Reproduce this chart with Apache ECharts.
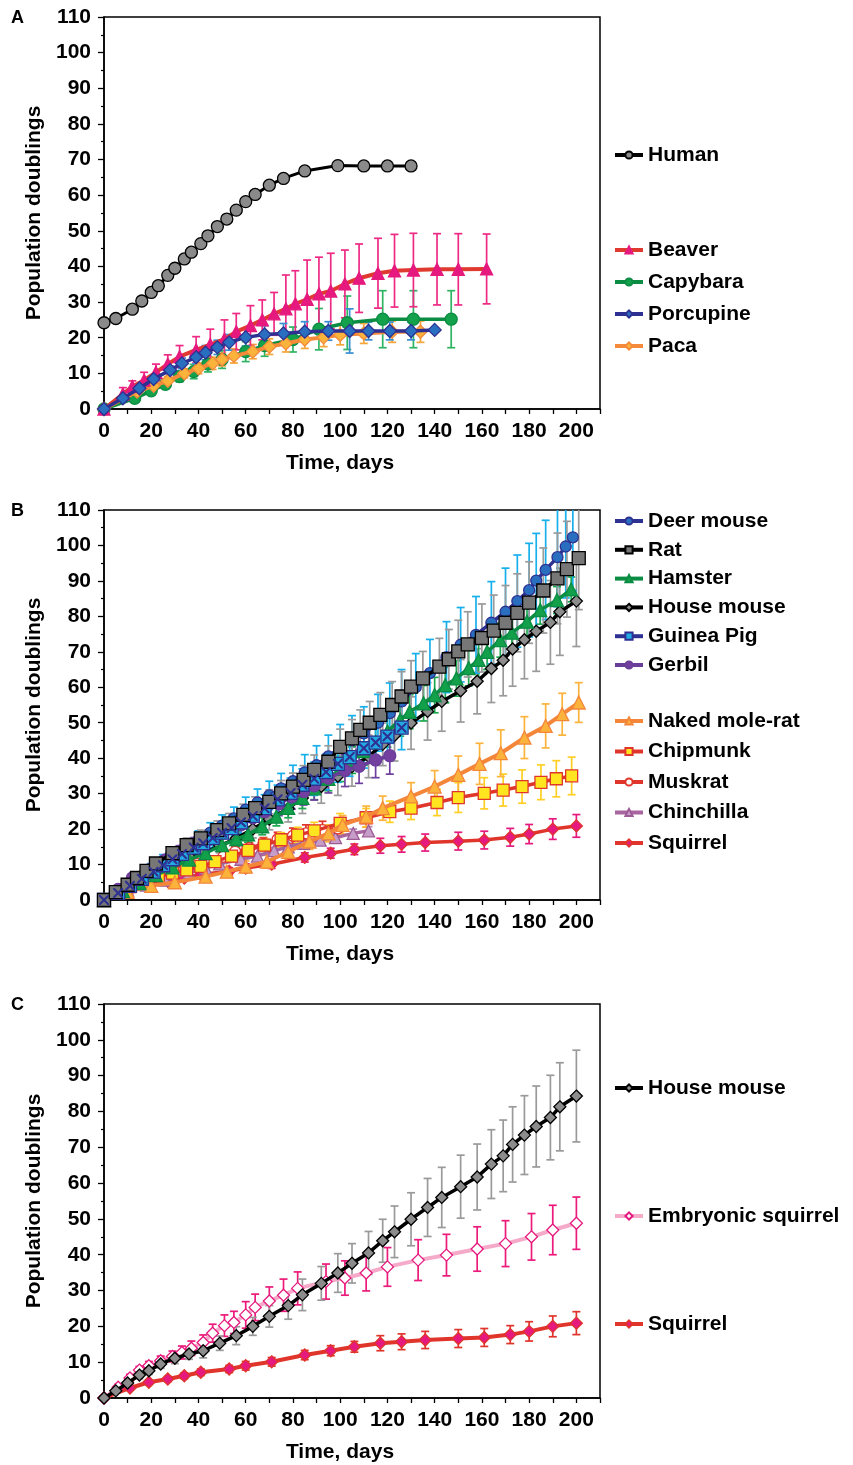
<!DOCTYPE html>
<html>
<head>
<meta charset="utf-8">
<script src="https://cdn.jsdelivr.net/npm/echarts@6/dist/echarts.min.js"></script>
<style>
  html, body { margin: 0; padding: 0; background: #fff; }
  #chart { width: 853px; height: 1465px; }
</style>
</head>
<body>
<div id="chart"></div>
<script>
// ---------- Panel A: population doublings of large rodents and human ----------
const humanDays = [0, 5, 12, 16, 20, 23, 27, 30, 34, 37, 41, 44, 48, 52, 56, 60, 64, 70, 76, 85, 99, 110, 120, 130];
const humanPD   = [24.2, 25.4, 28, 30.3, 32.7, 34.6, 37.5, 39.5, 42.1, 44, 46.4, 48.6, 51.2, 53.3, 55.8, 58.2, 60.2, 62.8, 64.7, 66.8, 68.3, 68.2, 68.2, 68.2];

const beaverDays = [0, 8, 12, 17, 22, 27, 32, 39, 45, 51, 56, 62, 67, 72, 77, 81, 86, 91, 96, 102, 108, 116, 123, 131, 141, 150, 162];
const beaverPD   = [0, 4.2, 6.3, 8.1, 10.3, 12.6, 14.7, 16.6, 18.1, 19.6, 21.7, 23.4, 25.0, 26.7, 28.1, 29.5, 30.8, 32.3, 33.1, 35.1, 36.7, 38.1, 38.8, 39.0, 39.2, 39.2, 39.3];
const beaverErr  = [0, 1.8, 1.6, 2.2, 2.3, 2.6, 3.1, 3.7, 4.3, 5.4, 5.1, 5.6, 5.6, 6, 9.5, 9.3, 11, 10.3, 10.6, 9.5, 9.6, 9.8, 10.2, 10.3, 10, 10, 9.8];

const capybaraDays = [0, 13, 20, 26, 32, 38, 44, 50, 60, 68, 80, 91, 103, 118, 131, 147];
const capybaraPD   = [0, 3.0, 5.1, 6.9, 9.1, 10.5, 12.6, 13.9, 16.1, 17.8, 19.5, 22.4, 24.2, 25.2, 25.2, 25.2];
const capybaraErr  = [0, 0.8, 1, 1.2, 1.5, 2, 2.2, 2.5, 2.8, 3, 3.5, 5.8, 7.5, 8, 8, 8];

const porcupineDays = [0, 8, 15, 21, 28, 33, 39, 43, 48, 53, 60, 68, 76, 85, 95, 104, 112, 121, 130, 140];
const porcupinePD   = [0, 3.0, 5.8, 8.4, 10.9, 12.8, 14.5, 15.8, 17.3, 18.7, 20.1, 20.9, 21.2, 21.7, 21.9, 21.9, 21.9, 21.9, 21.9, 22.2];
const porcupineErr  = [0, 0.6, 0.8, 1, 1.2, 1.5, 1.8, 2, 2, 2.2, 2.4, 2.5, 2.8, 2.8, 2.6, 6.2, 2.5, 2.5, 2.5, 0];

const pacaDays = [0, 14, 21, 27, 34, 40, 46, 50, 55, 63, 70, 77, 85, 93, 100, 110, 122, 134];
const pacaPD   = [0, 4.9, 6.5, 7.9, 10, 11.4, 12.8, 13.9, 14.9, 16.1, 17.5, 18.4, 19.5, 20.1, 20.8, 21.2, 21.7, 21.7];
const pacaErr  = [0, 0.8, 1, 1.2, 1.3, 1.5, 1.7, 1.8, 2, 2, 2.2, 2.4, 2.5, 2.6, 2.8, 2.8, 3, 3];

// ---------- Panel B: small rodents ----------
const deerMouseDays = [0, 5, 10, 15, 20, 25, 30, 35, 40, 45, 50, 55, 60, 65, 70, 75, 80, 85, 90, 95, 100, 105, 110, 116, 121, 126, 132, 138, 145, 151, 157.5, 164, 170, 175, 180, 183, 187, 192, 195.5, 198.5];
const deerMousePD   = [0, 2, 4.3, 6.5, 8.8, 11, 13, 15, 17, 19, 21, 23, 25.5, 27.5, 29.5, 31.5, 33.5, 36, 38, 40.5, 43, 45, 47, 50, 52.7, 56, 60, 64, 68.5, 72, 74.8, 78.2, 81.3, 84.3, 87.4, 90.1, 93.1, 96.7, 99.7, 102.3];
const deerMouseErr  = [0, 0.5, 1, 1.2, 1.5, 1.8, 2, 2.2, 2.5, 2.8, 3, 3.2, 3.5, 3.8, 4, 4.2, 4.5, 5, 5.5, 6, 6.5, 7, 7.5, 8, 8.5, 9, 9.5, 9.5, 10, 10.5, 10.8, 11.6, 12.3, 13, 13.2, 13.3, 14, 14, 14.5, 15];

const ratDays = [0, 5, 10, 14, 18, 22, 29, 35, 41, 48, 53, 59, 64, 70, 75, 80, 84.5, 89, 95, 100, 105, 108.5, 112.5, 117, 122, 126, 130, 135, 142, 146, 150, 154, 160, 165, 170, 175, 180, 186, 192, 196, 201];
const ratPD   = [0, 2.2, 4.3, 6.2, 8.2, 10.3, 13.2, 15.5, 17.4, 19.7, 21.6, 24, 25.9, 27.7, 30.1, 32, 33.9, 36.7, 39, 43.2, 45.6, 48, 50, 52.2, 55, 57.4, 60.2, 62.5, 65.8, 67.9, 70.1, 72.1, 73.9, 76, 78.2, 81, 83.9, 87.3, 90.7, 93.3, 96.4];
const ratErr  = [0, 0.5, 0.8, 1, 1.2, 1.4, 1.7, 2, 2.3, 2.6, 2.8, 3, 3.2, 3.4, 3.6, 3.8, 4, 4.2, 4.5, 5, 5.3, 5.6, 6, 6.3, 6.6, 7, 7.3, 7.6, 8, 8.4, 8.8, 9.2, 9.6, 10, 10.5, 11, 11.5, 12, 12.8, 13.5, 14.5];

const hamsterDays = [0, 8, 15, 22, 29, 36, 43, 50, 56, 61, 67, 73, 78, 84, 89, 95, 100, 105, 110, 115, 120, 125.4, 129.4, 135.3, 140, 144.5, 149.2, 154.4, 158.6, 162.2, 167.8, 172.7, 179.1, 184.7, 191.8, 197.8];
const hamsterPD   = [0, 2.5, 4.8, 7, 9.2, 11.4, 13.2, 15.5, 17.2, 18.5, 20.8, 23.5, 26, 28.8, 31.5, 34.2, 37, 39.5, 42, 44.5, 47.5, 50.8, 53.1, 55.5, 57.8, 60.6, 62.5, 65.4, 67.7, 70, 73.3, 75.4, 78.5, 81.8, 84.6, 87.6];
const hamsterErr  = [0, 0.5, 0.8, 1, 1.2, 1.4, 1.6, 1.8, 2, 2.2, 2.4, 2.6, 2.8, 3, 3.2, 3.4, 3.6, 3.8, 4, 4.2, 4.4, 4.6, 4.8, 5, 5, 5, 5, 5, 5, 5, 4.8, 4.5, 4.2, 4, 3.8, 3.5];

const houseMouseDays = [0, 5, 10, 15, 19, 24, 30, 36, 42, 49, 56, 63, 70, 78, 84, 92, 99, 105, 112, 118, 123, 130, 137, 143, 151, 158, 164, 169, 173, 178, 183, 189, 193, 200];
const houseMousePD   = [0, 2.0, 4.2, 6.4, 7.6, 9.5, 11.1, 12.3, 13.2, 15.3, 17.4, 20, 22.8, 25.8, 28.8, 32, 34.9, 37.6, 40.5, 43.9, 46.4, 49.9, 53.2, 56, 59, 61.7, 65.3, 67.6, 70.8, 73.4, 75.8, 78.3, 81.3, 84.3];
const houseMouseErr  = [0, 0.5, 0.8, 1, 1, 1.2, 1.5, 1.5, 2, 2, 2.5, 2.5, 3, 3.8, 4.4, 4.7, 5.4, 5.5, 6, 6, 7.2, 7.4, 8.1, 8.4, 8.8, 9.2, 9.6, 10, 10.5, 11, 11.3, 11.8, 12.3, 12.8];

const guineaPigDays = [0, 6, 11, 16, 21, 25, 29, 33, 38, 42, 46, 50, 54, 58, 63, 68, 73.5, 79, 84, 89, 94, 99, 104, 110, 115, 120, 126];
const guineaPigPD   = [0, 2, 4, 6, 8, 9.8, 11.5, 13, 14.8, 16, 17.5, 19, 20.3, 21.9, 23.7, 25.9, 28.4, 30.2, 32.5, 34.2, 36.1, 38.4, 40.3, 42.8, 44.4, 46.1, 48.6];
const guineaPigErr  = [0, 0.5, 0.8, 1, 1.2, 1.5, 1.8, 2, 2.2, 2.5, 2.7, 3, 3.2, 3.4, 3.6, 3.8, 4, 4.2, 4.5, 4.7, 5, 5.2, 5.4, 5.6, 5.8, 6, 6.2];

const gerbilDays = [0, 6, 12, 19, 26, 32, 38, 45, 51, 58, 63, 68, 74, 79.5, 84.5, 89, 95, 102, 108, 115, 121];
const gerbilPD   = [0, 3, 6.2, 8.5, 11.3, 13.8, 15.8, 17.5, 19.7, 21.2, 23.2, 24.9, 27.1, 29.1, 30.6, 32.2, 34.4, 36.5, 37.7, 39.5, 40.7];
const gerbilErr  = [0, 0.5, 0.8, 1, 1.2, 1.5, 1.8, 2, 2.3, 2.5, 2.8, 3, 3.3, 3.5, 3.8, 4, 4.2, 4.5, 4.8, 5, 5.2];

const moleRatDays = [0, 10, 20, 30, 43, 52, 60, 69, 78, 87, 95, 101, 111, 118, 130, 140, 150, 159, 168, 178, 187, 194, 201];
const moleRatPD   = [0, 2.3, 4, 5, 6.6, 8, 9.4, 10.8, 13.6, 16.5, 18.8, 21.2, 23.5, 25.9, 29.2, 32, 35.3, 38.4, 41.4, 45.8, 49.1, 52.4, 55.7];
const moleRatErr  = [0, 0.5, 0.8, 1, 1.2, 1.4, 1.6, 1.8, 2, 2.2, 2.4, 2.6, 3, 3.4, 3.9, 4.5, 5.3, 5.8, 6.6, 5.9, 6.2, 5.9, 5.6];

const chipmunkDays = [0, 5, 11, 17, 23, 29, 35, 41, 47, 54, 61, 68, 75, 82, 89, 100, 111, 121, 130, 141, 150, 161, 169, 177, 185, 191.5, 198];
const chipmunkPD   = [0, 2.2, 3.8, 5.2, 6.6, 7.6, 8.5, 9.5, 10.8, 12.4, 14, 15.5, 17, 18.3, 19.5, 21.6, 23.2, 24.9, 25.9, 27.5, 28.9, 30.1, 31, 32, 33.2, 34.2, 35];
const chipmunkErr  = [0, 0.5, 0.6, 0.8, 1, 1, 1.2, 1.2, 1.4, 1.5, 1.6, 1.8, 2, 2.2, 2.4, 2.8, 2.6, 3, 3.2, 3.7, 4.2, 4.4, 4.5, 4.7, 4.9, 5.1, 5.3];

const muskratDays = [0, 8, 12, 16, 21, 29, 34, 39.5, 44.5, 50.5, 55.5, 61.5, 67.5, 73.5, 80, 85.5, 92.5, 99];
const muskratPD   = [0, 3.2, 4.4, 5.2, 6.4, 7.5, 8.7, 10.2, 11, 12.2, 13.6, 14.6, 15.8, 17.1, 18.1, 18.8, 19.7, 20.2];
const muskratErr  = [0, 0.4, 0.5, 0.6, 0.8, 1, 1, 1.2, 1.3, 1.4, 1.5, 1.6, 1.8, 2, 2.2, 2.4, 2.5, 2.5];

const chinchillaDays = [0, 10, 18, 26, 36, 43, 49, 58, 65, 72, 78, 84.5, 91.5, 98, 105.5, 112];
const chinchillaPD   = [0, 2.8, 4.2, 5.6, 7.7, 9, 10.2, 11.5, 12.4, 13.9, 15, 16, 16.9, 17.6, 18.8, 19.5];
const chinchillaErr  = [0, 0.3, 0.4, 0.5, 0.6, 0.7, 0.7, 0.8, 0.8, 0.9, 1, 1, 1, 1.1, 1.2, 1.2];

const squirrelDays = [0, 11, 19, 27, 34, 41, 53, 60, 71, 85, 96, 106, 117, 126, 136, 150, 161, 172, 180, 190, 200];
const squirrelPD   = [0, 2.8, 4.4, 5.3, 6.2, 7.2, 8.1, 9.0, 10.1, 12, 13.2, 14.3, 15.3, 15.7, 16.2, 16.6, 16.9, 17.7, 18.6, 20, 20.9];
const squirrelErr  = [0, 0.5, 0.6, 0.7, 0.8, 0.9, 1, 1.2, 1.2, 1.3, 1.4, 1.5, 2.1, 2.2, 2.4, 2.5, 2.5, 2.5, 2.7, 2.9, 3.2];

// ---------- Panel C: embryonic squirrel cells ----------
const embSquirrelDays = [0, 6, 11, 15, 19, 24, 29, 33, 37, 42, 46, 51, 55, 60, 64, 70, 76, 82, 94, 102, 111, 120, 133, 145, 158, 170, 181, 190, 200];
const embSquirrelPD   = [0, 3.0, 5.6, 7.8, 9.0, 10.4, 11.6, 12.7, 13.9, 15.5, 18.1, 20.2, 21.1, 23.2, 25.3, 27.1, 28.7, 30.6, 32.5, 33.5, 34.9, 36.6, 38.5, 39.9, 41.6, 43.1, 45, 46.9, 48.8];
const embSquirrelErr  = [0, 0.8, 1, 1, 1.2, 1.3, 1.5, 1.8, 2, 2.1, 2.5, 3, 3.1, 3.7, 3.7, 3.9, 4.5, 4.6, 4.9, 4.8, 5, 5.4, 5.7, 5.8, 6.2, 6.4, 6.5, 6.9, 7.3];

// ---------- Axis ticks ----------
const dayTicks = [0, 20, 40, 60, 80, 100, 120, 140, 160, 180, 200];
const doublingTicks = [0, 10, 20, 30, 40, 50, 60, 70, 80, 90, 100, 110];

// ---------- Drawing ----------
const FONT = '"Liberation Sans", Arial, Helvetica, sans-serif';
const panels = [
  { label: 'A', top: 17, height: 392 },
  { label: 'B', top: 510, height: 390 },
  { label: 'C', top: 1004, height: 394 }
];

// Series styles: panel index, data arrays and look
const styles = [
  { g: 0, name: 'Human', d: humanDays, v: humanPD, line: '#000000', lw: 3, sym: 'circle', size: 12, fill: '#8a8a8a', border: '#000000' },
  { g: 0, name: 'Capybara', d: capybaraDays, v: capybaraPD, e: capybaraErr, line: '#0b8c43', lw: 3.5, sym: 'circle', size: 12, fill: '#13a14b', border: '#0b8c43', ec: '#2fb463' },
  { g: 0, name: 'Paca', d: pacaDays, v: pacaPD, e: pacaErr, line: '#f48a3a', lw: 4, sym: 'diamond', size: 13, fill: '#fbb33c', border: '#f48a3a', ec: '#f6a53a' },
  { g: 0, name: 'Beaver', d: beaverDays, v: beaverPD, e: beaverErr, line: '#e03a30', lw: 4, sym: 'triangle', size: 12, fill: '#e5197e', border: '#e5197e', ec: '#ee2a85' },
  { g: 0, name: 'Porcupine', d: porcupineDays, v: porcupinePD, e: porcupineErr, line: '#2e3192', lw: 3.5, sym: 'diamond', size: 13, fill: '#2a6fbf', border: '#2e3192', ec: '#3a8fd3' },

  { g: 1, name: 'Squirrel', d: squirrelDays, v: squirrelPD, e: squirrelErr, line: '#e0352b', lw: 3.5, sym: 'diamond', size: 12, fill: '#e5197e', border: '#e0352b', ec: '#e5197e' },
  { g: 1, name: 'Chinchilla', d: chinchillaDays, v: chinchillaPD, e: chinchillaErr, line: '#a8659f', lw: 3.5, sym: 'triangle', size: 12, fill: '#c59dc8', border: '#9e5c97', ec: '#b58ab8' },
  { g: 1, name: 'Muskrat', d: muskratDays, v: muskratPD, e: muskratErr, line: '#e0352b', lw: 3.5, sym: 'circle', size: 11, fill: '#ffffff', border: '#e0352b', ec: '#e0352b' },
  { g: 1, name: 'Chipmunk', d: chipmunkDays, v: chipmunkPD, e: chipmunkErr, line: '#e0352b', lw: 3.5, sym: 'rect', size: 12, fill: '#ffe51f', border: '#e0352b', ec: '#ffcf24' },
  { g: 1, name: 'Naked mole-rat', d: moleRatDays, v: moleRatPD, e: moleRatErr, line: '#f4863a', lw: 4, sym: 'triangle', size: 13, fill: '#fbb33c', border: '#f4863a', ec: '#fbb33c' },
  { g: 1, name: 'House mouse', d: houseMouseDays, v: houseMousePD, e: houseMouseErr, line: '#000000', lw: 3.5, sym: 'diamond', size: 12, fill: '#8c8c8c', border: '#000000', ec: '#9a9a9a' },
  { g: 1, name: 'Hamster', d: hamsterDays, v: hamsterPD, e: hamsterErr, line: '#0b8c43', lw: 3.5, sym: 'triangle', size: 13, fill: '#12a04b', border: '#0b8c43', ec: '#1ea84f' },
  { g: 1, name: 'Deer mouse', d: deerMouseDays, v: deerMousePD, e: deerMouseErr, line: '#2e3192', lw: 3.5, sym: 'circle', size: 11, fill: '#2a6fbf', border: '#2e3192', ec: '#17b0ec' },
  { g: 1, name: 'Gerbil', d: gerbilDays, v: gerbilPD, e: gerbilErr, line: '#6a3d9a', lw: 3.5, sym: 'circle', size: 12, fill: '#7440a0', border: '#6a3d9a', ec: '#6d3f9f' },
  { g: 1, name: 'Guinea Pig', d: guineaPigDays, v: guineaPigPD, e: guineaPigErr, line: '#2e3192', lw: 3.5, sym: 'rect', size: 13, fill: '#22aae2', border: '#2e3192', ec: '#17b0ec', cross: true },
  { g: 1, name: 'Rat', d: ratDays, v: ratPD, e: ratErr, line: '#000000', lw: 3.5, sym: 'rect', size: 13, fill: '#777777', border: '#000000', ec: '#9a9a9a' },

  { g: 2, name: 'Squirrel', d: squirrelDays, v: squirrelPD, e: squirrelErr, line: '#e0352b', lw: 4, sym: 'diamond', size: 12, fill: '#e5197e', border: '#e0352b', ec: '#e0352b' },
  { g: 2, name: 'Embryonic squirrel', d: embSquirrelDays, v: embSquirrelPD, e: embSquirrelErr, line: '#f5aac9', lw: 4, sym: 'diamond', size: 12, fill: '#ffffff', border: '#e5197e', ec: '#ec1a7a' },
  { g: 2, name: 'House mouse', d: houseMouseDays, v: houseMousePD, e: houseMouseErr, line: '#000000', lw: 3.5, sym: 'diamond', size: 12, fill: '#8c8c8c', border: '#000000', ec: '#9a9a9a' }
];

const zip2 = (xs, ys) => xs.map((x, i) => [x, ys[i]]);
const zip3 = (xs, ys, es) => xs.map((x, i) => [x, ys[i], es[i] || 0]);

function errorBarRenderer(color) {
  return function (params, api) {
    const x = api.value(0), y = api.value(1), e = api.value(2);
    if (!e) return null;
    const hi = api.coord([x, y + e]);
    const lo = api.coord([x, y - e]);
    const cap = 4;
    const style = { stroke: color, lineWidth: 1.7, fill: null };
    return {
      type: 'group',
      children: [
        { type: 'line', shape: { x1: hi[0], y1: hi[1], x2: lo[0], y2: lo[1] }, style },
        { type: 'line', shape: { x1: hi[0] - cap, y1: hi[1], x2: hi[0] + cap, y2: hi[1] }, style },
        { type: 'line', shape: { x1: lo[0] - cap, y1: lo[1], x2: lo[0] + cap, y2: lo[1] }, style }
      ]
    };
  };
}

const crossPath = 'path://M0,0 L3,0 L10,7 L17,0 L20,0 L20,3 L13,10 L20,17 L20,20 L17,20 L10,13 L3,20 L0,20 L0,17 L7,10 L0,3 Z';

const series = [];
styles.forEach((s, idx) => {
  if (s.e) {
    series.push({
      type: 'custom', name: s.name + ' (SD)', xAxisIndex: s.g, yAxisIndex: s.g,
      data: zip3(s.d, s.v, s.e), encode: { x: 0, y: 1 },
      renderItem: errorBarRenderer(s.ec), z: 2, clip: true, silent: true
    });
  }
  series.push({
    type: 'line', name: s.name, xAxisIndex: s.g, yAxisIndex: s.g,
    data: zip2(s.d, s.v), symbol: s.sym, symbolSize: s.size, showSymbol: true,
    lineStyle: { color: s.line, width: s.lw },
    itemStyle: { color: s.fill, borderColor: s.border, borderWidth: 1.3 },
    z: 3 + idx * 0.01, silent: true
  });
  if (s.cross) {
    series.push({
      type: 'line', name: s.name + ' mark', xAxisIndex: s.g, yAxisIndex: s.g,
      data: zip2(s.d, s.v), symbol: crossPath, symbolSize: 10,
      lineStyle: { width: 0, opacity: 0 }, itemStyle: { color: '#2e3192' },
      z: 3.5, silent: true
    });
  }
});

const grids = panels.map(p => ({ left: 104, width: 496, top: p.top, height: p.height, show: true, borderColor: '#000', borderWidth: 1.5, backgroundColor: 'transparent' }));

const labelStyle = { color: '#000', fontFamily: FONT, fontWeight: 'bold', fontSize: 21 };
const nameStyle = { color: '#000', fontFamily: FONT, fontWeight: 'bold', fontSize: 21 };

const xAxes = panels.map((p, i) => ({
  type: 'value', gridIndex: i, min: 0, max: 210, interval: 10,
  name: 'Time, days', nameLocation: 'middle', nameGap: 44,
  nameTextStyle: Object.assign({ padding: [0, 24, 0, 0] }, nameStyle),
  axisLine: { lineStyle: { color: '#000', width: 1.5 } },
  axisTick: { show: true, length: 5, lineStyle: { color: '#000', width: 1.3 } },
  axisLabel: Object.assign({ margin: 12, interval: 0,
    formatter: v => (dayTicks.indexOf(v) >= 0 ? String(v) : '') }, labelStyle),
  splitLine: { show: false }
}));

const yAxes = panels.map((p, i) => ({
  type: 'value', gridIndex: i, min: 0, max: 110, interval: 10,
  name: 'Population doublings', nameLocation: 'middle', nameGap: 51, nameTextStyle: nameStyle,
  axisLine: { show: true, lineStyle: { color: '#000', width: 1.5 } },
  axisTick: { show: true, length: 6, lineStyle: { color: '#000', width: 1.3 } },
  minorTick: { show: true, splitNumber: 2, length: 3, lineStyle: { color: '#000', width: 1.2 } },
  axisLabel: Object.assign({ margin: 13,
    formatter: v => (doublingTicks.indexOf(v) >= 0 ? String(v) : '') }, labelStyle),
  splitLine: { show: false }
}));

const legendBase = {
  orient: 'vertical', left: 613, padding: 0, itemWidth: 28, itemHeight: 9, itemGap: 10,
  lineStyle: { width: 4 },
  textStyle: { color: '#000', fontFamily: FONT, fontWeight: 'bold', fontSize: 21, lineHeight: 22 },
  selectedMode: false
};
const legendGroups = [
  { data: ['Human'], top: 144 },
  { data: ['Beaver', 'Capybara', 'Porcupine', 'Paca'], top: 239, itemGap: 10 },
  { data: ['Deer mouse', 'Rat', 'Hamster', 'House mouse', 'Guinea Pig', 'Gerbil'], top: 510, itemGap: 6.8 },
  { data: ['Naked mole-rat', 'Chipmunk', 'Muskrat', 'Chinchilla', 'Squirrel'], top: 710, itemGap: 8.5 },
  { data: ['House mouse'], top: 1077 },
  { data: ['Embryonic squirrel'], top: 1205 },
  { data: ['Squirrel'], top: 1313 }
];
const legends = legendGroups.map(g => Object.assign({}, legendBase, g));

const chart = echarts.init(document.getElementById('chart'), null, { renderer: 'canvas' });
chart.setOption({
  animation: false,
  backgroundColor: '#ffffff',
  grid: grids,
  xAxis: xAxes,
  yAxis: yAxes,
  legend: legends,
  series: series,
  graphic: panels.map(p => ({
    type: 'text', left: 11, top: p.top - 8,
    style: { text: p.label, fill: '#000', font: 'bold 18px ' + FONT }
  }))
});
</script>
</body>
</html>
